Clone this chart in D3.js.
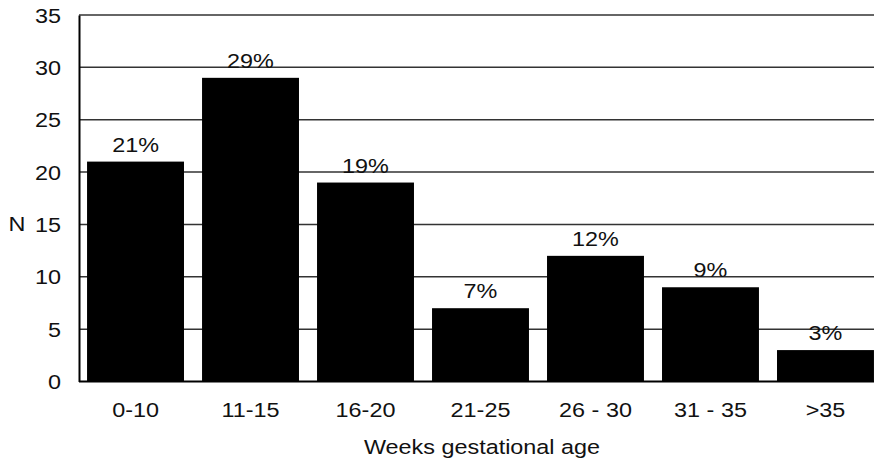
<!DOCTYPE html>
<html>
<head>
<meta charset="utf-8">
<script src="https://cdn.jsdelivr.net/npm/d3@7/dist/d3.min.js"></script>
<style>
  html, body { margin: 0; padding: 0; background: #fff; }
  svg { display: block; font-family: "Liberation Sans", Arial, sans-serif; }
</style>
</head>
<body>
<div id="chart"></div>
<script>
const categories = ["0-10", "11-15", "16-20", "21-25", "26 - 30", "31 - 35", ">35"];
const counts = [21, 29, 19, 7, 12, 9, 3];
const percentLabels = ["21%", "29%", "19%", "7%", "12%", "9%", "3%"];
const yTicks = [0, 5, 10, 15, 20, 25, 30, 35];
const yLabel = "N";
const xLabel = "Weeks gestational age";

const W = 874, H = 459;
const FS = 19.5, SX = 1.2;   // font size and horizontal stretch
const plotLeft = 79, plotTop = 15;

const svg = d3.select("#chart").append("svg")
  .attr("width", W).attr("height", H);

const x = d3.scaleBand()
  .domain(categories)
  .range([plotLeft, 882])
  .paddingInner(0.157)
  .paddingOuter(0.07);

const y = d3.scaleLinear().domain([0, 35]).range([381.5, plotTop]);

// helper: stretched text at (px,py)
function stext(g, px, py, str, anchor) {
  return g.append("text")
    .attr("transform", `translate(${px},${py}) scale(${SX},1)`)
    .attr("text-anchor", anchor || "middle")
    .attr("font-size", FS)
    .attr("fill", "#111")
    .text(str);
}

// gridlines
svg.append("g")
  .selectAll("line")
  .data(yTicks.filter(d => d > 0))
  .join("line")
  .attr("x1", plotLeft).attr("x2", W)
  .attr("y1", d => y(d)).attr("y2", d => y(d))
  .attr("stroke", "#333").attr("stroke-width", 1.5);

// bars
svg.append("g")
  .selectAll("rect")
  .data(counts)
  .join("rect")
  .attr("x", (d, i) => x(categories[i]))
  .attr("y", d => y(d))
  .attr("width", x.bandwidth())
  .attr("height", d => y(0) - y(d))
  .attr("fill", "#000");

// percent labels
const pl = svg.append("g");
counts.forEach((d, i) => {
  stext(pl, x(categories[i]) + x.bandwidth() / 2, y(d) - 10, percentLabels[i]);
});

// y axis
const yAxis = d3.axisLeft(y).tickValues(yTicks).tickSize(0).tickFormat("");
const gy = svg.append("g").attr("transform", `translate(${plotLeft},0)`).call(yAxis);
gy.select(".domain").attr("stroke", "#000").attr("stroke-width", 2);
gy.selectAll(".tick").each(function(d) {
  stext(d3.select(this), -18, 7, d3.format("d")(d), "end");
});

// x axis
const xAxis = d3.axisBottom(x).tickSize(0).tickFormat("");
const gx = svg.append("g").attr("transform", `translate(0,${y(0)})`).call(xAxis);
gx.select(".domain").attr("stroke", "#000").attr("stroke-width", 2)
  .attr("d", `M${plotLeft},0H${W}`);
gx.selectAll(".tick").each(function(d) {
  stext(d3.select(this), 0, 35.5, d);
});

// axis titles
stext(svg, 17, y(15) + 7, yLabel);
stext(svg, 482, 454, xLabel);
</script>
</body>
</html>
